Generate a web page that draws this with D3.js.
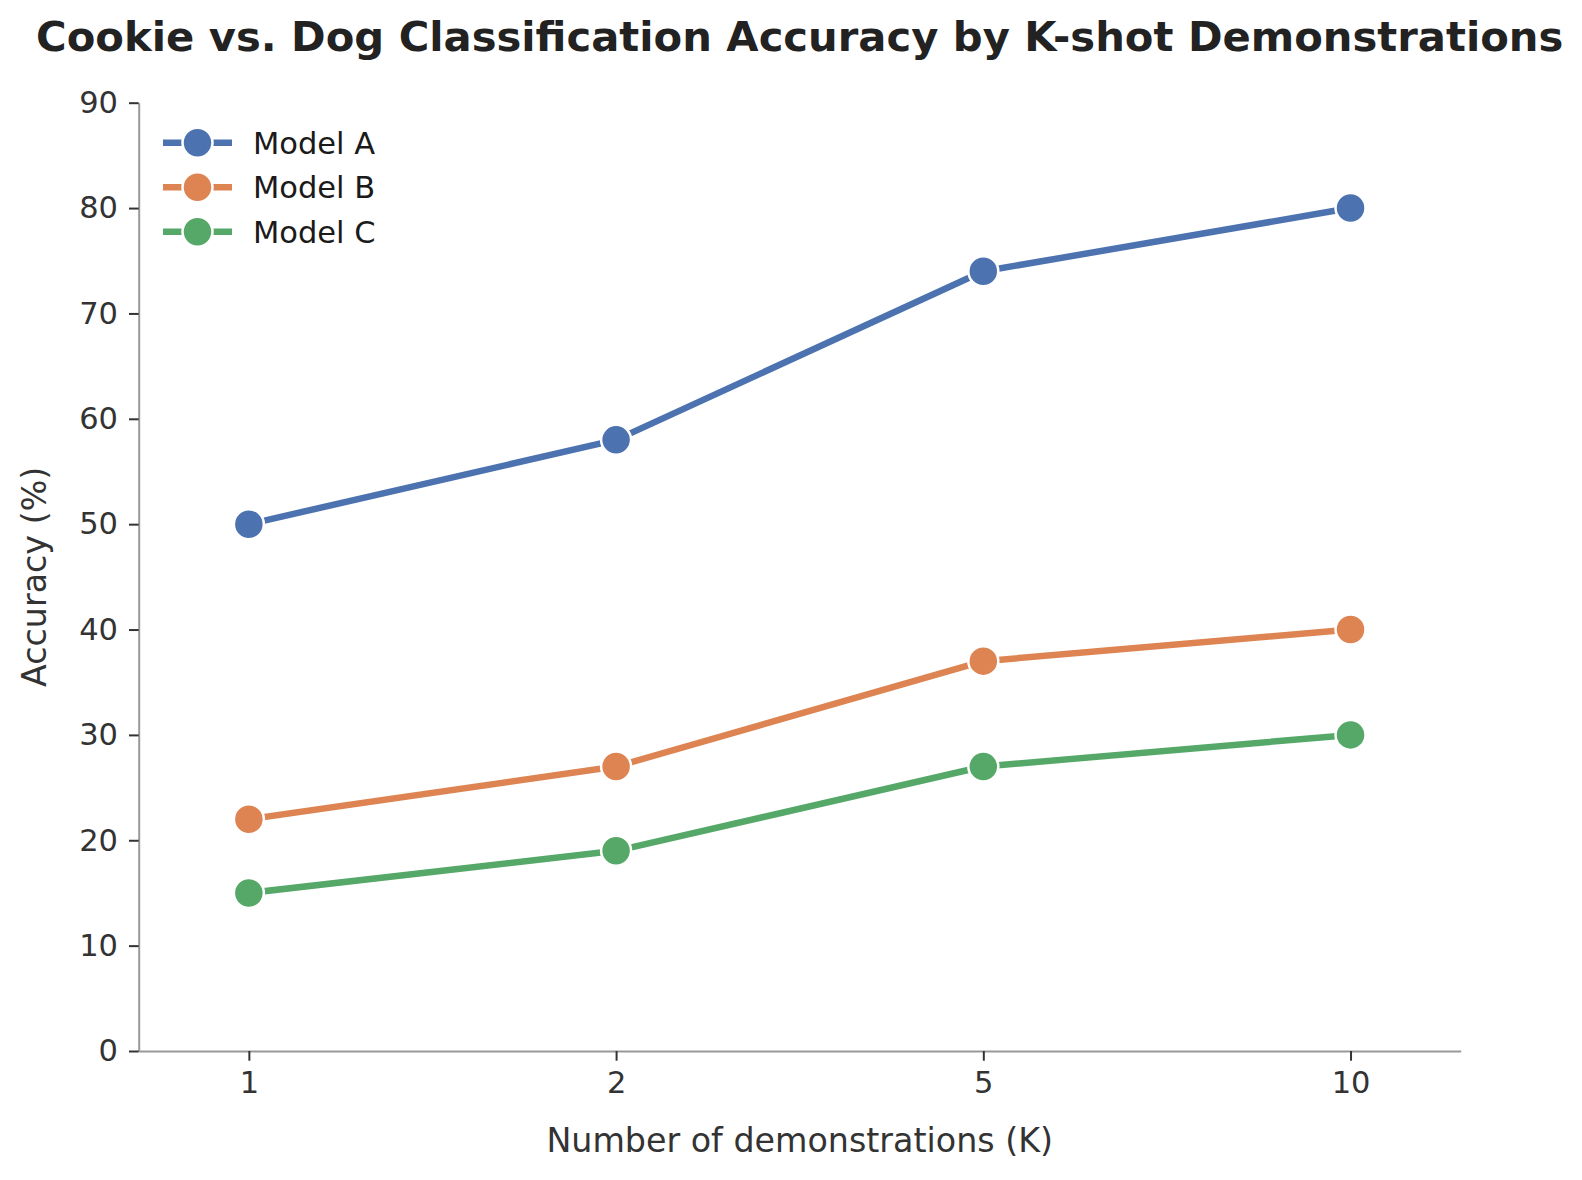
<!DOCTYPE html>
<html>
<head>
<meta charset="utf-8">
<script src="https://cdn.jsdelivr.net/npm/d3@7"></script>
<style>
  body { margin: 0; background: #ffffff; }
  svg { display: block; font-family: "DejaVu Sans", sans-serif; }
</style>
</head>
<body>
<div id="chart"></div>
<script>
// Data
let k_labels = ["1", "2", "5", "10"];
let series_names = ["Model A", "Model B", "Model C"];
let model_a = [50, 58, 74, 80];
let model_b = [22, 27, 37, 40];
let model_c = [15, 19, 27, 30];
let y_ticks = [0, 10, 20, 30, 40, 50, 60, 70, 80, 90];
let series_colors = ["#4c72b0", "#dd8452", "#55a868"];

function BuildGraph(){
  let chart_width = 1582;
  let chart_height = 1180;
  let left = 138.7, right = 1460.7, top = 102.7, bottom = 1051;
  let marker_r = 15;
  let line_w = 6.5;

  let svg = d3.select('#chart')
    .append('svg')
    .attr('width', chart_width)
    .attr('height', chart_height);

  // Scales
  let x_scale = d3.scalePoint()
    .domain(k_labels)
    .range([left, right])
    .padding(0.3);

  let y_scale = d3.scaleLinear()
    .domain([0, 90])
    .range([bottom, top]);

  // Axes
  let x_axis = d3.axisBottom(x_scale)
    .tickSize(9.7)
    .tickSizeOuter(0)
    .tickPadding(11);
  let gx = svg.append('g')
    .attr('transform', 'translate(0,' + bottom + ')')
    .call(x_axis);

  let y_axis = d3.axisLeft(y_scale)
    .tickValues(y_ticks)
    .tickSize(9.7)
    .tickSizeOuter(0)
    .tickPadding(11);
  let gy = svg.append('g')
    .attr('transform', 'translate(' + left + ',0)')
    .call(y_axis);

  [gx, gy].forEach(function(g){
    g.select('.domain').attr('stroke', '#999999').attr('stroke-width', 2);
    g.selectAll('.tick line').attr('stroke', '#333333').attr('stroke-width', 2);
    g.selectAll('.tick text')
      .attr('fill', '#333333')
      .style('font-size', '30.5px')
      .style('font-family', '"DejaVu Sans", sans-serif');
  });

  // Lines and markers
  let all_series = [model_a, model_b, model_c];
  let line = d3.line()
    .x((d, i) => x_scale(k_labels[i]))
    .y((d) => y_scale(d));

  all_series.forEach(function(values, s){
    svg.append('path')
      .datum(values)
      .attr('d', line)
      .attr('fill', 'none')
      .attr('stroke', series_colors[s])
      .attr('stroke-width', line_w)
      .attr('stroke-linejoin', 'round')
      .attr('stroke-linecap', 'round');

    svg.selectAll('.dot-' + s)
      .data(values)
      .enter()
      .append('circle')
      .attr('class', 'dot-' + s)
      .attr('cx', (d, i) => x_scale(k_labels[i]))
      .attr('cy', (d) => y_scale(d))
      .attr('r', marker_r)
      .attr('fill', series_colors[s])
      .attr('stroke', '#ffffff')
      .attr('stroke-width', 2.5);
  });

  // Title
  svg.append('text')
    .attr('x', (left + right) / 2)
    .attr('y', 51)
    .attr('text-anchor', 'middle')
    .attr('fill', '#222222')
    .style('font-size', '41.7px')
    .style('font-weight', 'bold')
    .text('Cookie vs. Dog Classification Accuracy by K-shot Demonstrations');

  // Axis titles
  svg.append('text')
    .attr('x', (left + right) / 2)
    .attr('y', 1152)
    .attr('text-anchor', 'middle')
    .attr('fill', '#333333')
    .style('font-size', '33.3px')
    .text('Number of demonstrations (K)');

  svg.append('text')
    .attr('text-anchor', 'middle')
    .attr('fill', '#333333')
    .style('font-size', '33.3px')
    .attr('transform', 'translate(46,' + ((top + bottom) / 2) + ')rotate(-90)')
    .text('Accuracy (%)');

  // Legend
  let legend = svg.append('g');
  series_names.forEach(function(name, s){
    let ly = 142.7 + s * 44.5;
    legend.append('line')
      .attr('x1', 163).attr('x2', 232)
      .attr('y1', ly).attr('y2', ly)
      .attr('stroke', series_colors[s])
      .attr('stroke-width', line_w);
    legend.append('circle')
      .attr('cx', 197.5).attr('cy', ly)
      .attr('r', marker_r)
      .attr('fill', series_colors[s])
      .attr('stroke', '#ffffff')
      .attr('stroke-width', 2.5);
    legend.append('text')
      .attr('x', 253)
      .attr('y', ly)
      .attr('dy', '0.36em')
      .attr('fill', '#1a1a1a')
      .style('font-size', '30.5px')
      .text(name);
  });
}

document.addEventListener('DOMContentLoaded', function(){
  BuildGraph();
});
</script>
</body>
</html>
